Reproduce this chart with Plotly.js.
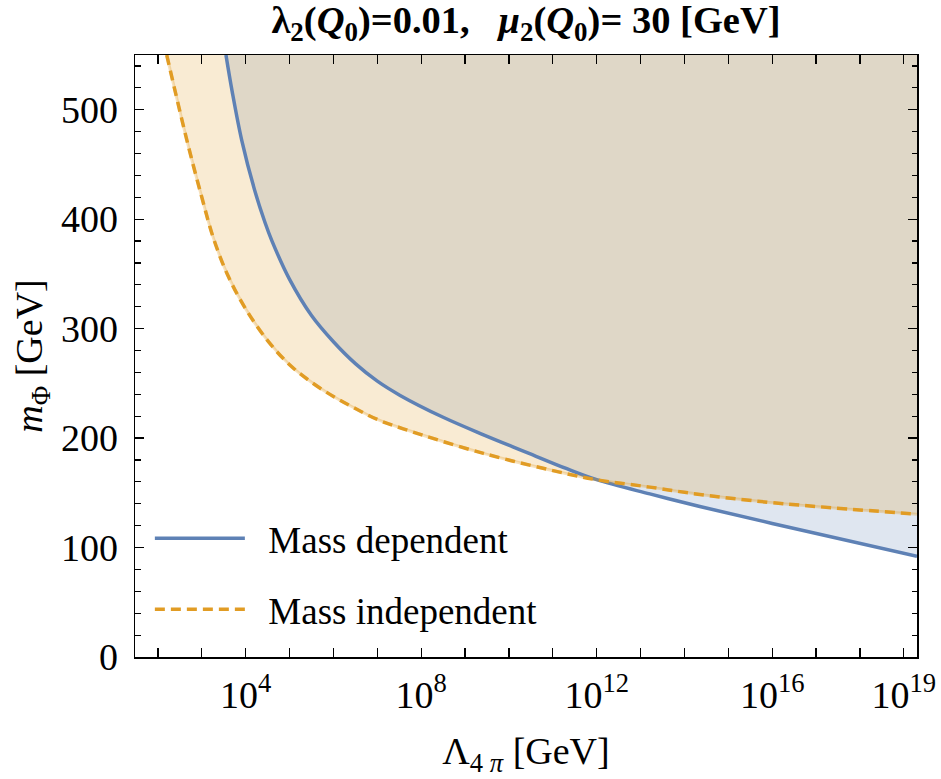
<!DOCTYPE html>
<html><head><meta charset="utf-8">
<script src="https://cdn.plot.ly/plotly-3.0.1.min.js"></script>
<style>body{margin:0;background:#fff}</style></head>
<body><div id="chart" style="width:941px;height:779px"></div>
<script>
// log10 of Lambda_{4pi} [GeV] and m_Phi [GeV]
const depLog  = [3.55, 3.69, 3.91, 4.2, 4.44, 4.6, 5.0, 5.5, 6.0, 6.5, 7.0, 7.52, 8.5, 9.42, 10.4, 11.32, 12.0, 13.21, 14.35, 16.0, 19.3];
const depMass = [550, 517, 472, 427, 397, 380, 345, 312, 288, 268, 252, 239, 219, 203, 187, 172, 162, 149, 137.5, 122, 92];
const indLog  = [2.20, 2.66, 3.0, 3.27, 3.6, 4.0, 4.5, 5.0, 5.5, 6.0, 6.5, 7.0, 7.59, 9.42, 11.32, 12.0, 13.21, 14.35, 16.0, 19.3];
const indMass = [550, 472, 420, 382, 348, 318, 289, 267, 251, 238, 227, 217, 208.5, 186, 167.4, 161.9, 155.2, 148.5, 141, 130.5];
const xRangeLog = [1.477, 19.3];
const yRange = [0, 550];
const xMinorExp = [2,3,4,5,6,7,8,9,10,11,12,13,14,15,16,17,18,19];
const xLabelExp = [4, 8, 12, 16, 19];
const legendNames = ['Mass dependent', 'Mass independent'];

const BLUE = '#5E81B5', ORANGE = '#E19C24';
const pw = v => Math.pow(10, v);
const depX = depLog.map(pw), indX = indLog.map(pw);
const FONT = '"Liberation Serif", "Times New Roman", serif';
const NB = '\u00a0\u00a0';
const SM = 1.0;

const traces = [
  {x:[depX[0], depX[depX.length-1]], y:[yRange[1], yRange[1]], mode:'lines', line:{width:0}, showlegend:false, hoverinfo:'skip'},
  {x:depX, y:depMass, mode:'lines', line:{width:0, shape:'spline', smoothing:SM}, fill:'tonexty', fillcolor:'rgba(94,129,181,0.2)', showlegend:false, hoverinfo:'skip'},
  {x:[indX[0], indX[indX.length-1]], y:[yRange[1], yRange[1]], mode:'lines', line:{width:0}, showlegend:false, hoverinfo:'skip'},
  {x:indX, y:indMass, mode:'lines', line:{width:0, shape:'spline', smoothing:SM}, fill:'tonexty', fillcolor:'rgba(225,156,36,0.2)', showlegend:false, hoverinfo:'skip'},
  {x:depX, y:depMass, mode:'lines', name:NB+legendNames[0], legendgroup:'a', legendrank:1,
   line:{color:BLUE, width:3.5, shape:'spline', smoothing:SM}},
  {x:indX, y:indMass, mode:'lines', showlegend:false, hoverinfo:'skip',
   line:{color:'rgba(225,156,36,0.3)', width:3, shape:'spline', smoothing:SM}},
  {x:indX, y:indMass, mode:'lines', name:NB+legendNames[1], legendgroup:'b', legendrank:2,
   line:{color:ORANGE, width:3.5, dash:'10px,6px', shape:'spline', smoothing:SM}}
];

const layout = {
  width:941, height:779,
  margin:{l:135, r:24, t:55, b:122},
  paper_bgcolor:'#fff', plot_bgcolor:'#fff',
  font:{family:FONT, size:37, color:'#000'},
  title:{text:'<b>λ<sub>2</sub>(<i>Q</i><sub>0</sub>)=0.01,   <i>μ</i><sub>2</sub>(<i>Q</i><sub>0</sub>)= 30 [GeV]</b>',
         font:{family:FONT, size:38.5, color:'#000'}, x:0.5, xref:'paper', xanchor:'center', y:0.975, yanchor:'middle'},
  xaxis:{type:'log', range:xRangeLog, showgrid:false, zeroline:false,
    showline:true, linecolor:'#000', linewidth:1.5, mirror:'ticks',
    ticks:'inside', ticklen:9, tickwidth:1.3, tickcolor:'#000',
    tickmode:'array', tickvals:xLabelExp.map(pw),
    ticktext:xLabelExp.map(e => '10<sup>'+e+'</sup>'),
    minor:{tickmode:'array', tickvals:xMinorExp.map(pw), ticks:'inside', ticklen:9, tickwidth:1.3, tickcolor:'#000', showgrid:false},
    tickfont:{family:FONT, size:38}, ticklabelstandoff:4,
    title:{text:'Λ<sub>4 <i>π</i></sub> [GeV]', font:{family:FONT, size:38}, standoff:22}},
  yaxis:{range:yRange, showgrid:false, zeroline:false,
    showline:true, linecolor:'#000', linewidth:1.5, mirror:'ticks',
    ticks:'inside', ticklen:9, tickwidth:1.3, tickcolor:'#000',
    tickmode:'linear', tick0:0, dtick:100,
    minor:{dtick:20, ticks:'inside', ticklen:5.5, tickwidth:1.2, tickcolor:'#000', showgrid:false},
    tickfont:{family:FONT, size:38}, ticklabelstandoff:8,
    title:{text:'<i>m</i><sub>Φ</sub> [GeV]', font:{family:FONT, size:38}, standoff:6}},
  legend:{x:0.019, y:0.248, xanchor:'left', yanchor:'top', bgcolor:'rgba(0,0,0,0)',
    font:{family:FONT, size:37}, itemwidth:90, tracegroupgap:20, traceorder:'grouped'},
  showlegend:true
};

Plotly.newPlot('chart', traces, layout, {staticPlot:true});
</script>
</body></html>
